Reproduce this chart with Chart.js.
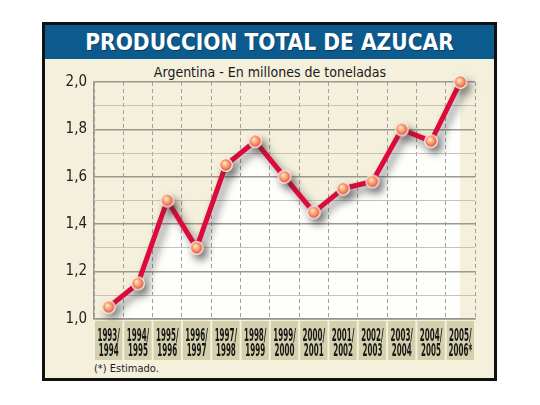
<!DOCTYPE html>
<html><head><meta charset="utf-8">
<script src="https://cdn.jsdelivr.net/npm/chart.js@4/dist/chart.umd.min.js"></script>
<style>
html,body{margin:0;padding:0;background:#fff;}
#wrap{position:relative;width:540px;height:405px;overflow:hidden;}
#frame{position:absolute;left:42px;top:22px;width:449px;height:353px;border:3px solid #111;background:#f4f0dc;}
#banner{position:absolute;left:0;top:0;width:449px;height:34px;background:#0c5b8f;color:#fff;font-family:"DejaVu Sans Condensed","DejaVu Sans",sans-serif;font-stretch:condensed;font-weight:bold;font-size:22.5px;text-align:center;line-height:35px;text-shadow:1px 1px 0 rgba(0,0,0,0.35);}
#sub{position:absolute;left:0;top:64px;width:540px;text-align:center;font-family:"DejaVu Sans Condensed","DejaVu Sans",sans-serif;font-stretch:condensed;font-size:14px;line-height:16px;color:#1a1a1a;}
#note{position:absolute;left:94px;top:362px;font-family:"Liberation Sans Narrow","DejaVu Sans Condensed",sans-serif;font-stretch:condensed;font-size:11px;line-height:14px;color:#222;}
canvas{position:absolute;left:0;top:0;}
</style>
</head><body>
<div id="wrap">
  <div id="frame"><div id="banner">PRODUCCION TOTAL DE AZUCAR</div></div>
  <div id="sub">Argentina - En millones de toneladas</div>
  <div id="note">(*) Estimado.</div>
  <canvas id="c" width="540" height="405"></canvas>
</div>
<script>
const categories = [
  ['1993/','1994'],['1994/','1995'],['1995/','1996'],['1996/','1997'],
  ['1997/','1998'],['1998/','1999'],['1999/','2000'],['2000/','2001'],
  ['2001/','2002'],['2002/','2003'],['2003/','2004'],['2004/','2005'],
  ['2005/','2006*']
];
const production = [1.05,1.15,1.50,1.30,1.65,1.75,1.60,1.45,1.55,1.58,1.80,1.75,2.00];
const yTickLabels = ['1,0','1,2','1,4','1,6','1,8','2,0'];
const yMin = 1.0, yMax = 2.0;

function isMajor(v){ return Math.abs(Math.round(v*10)) % 2 === 0; }

function makePoint(){
  const c = document.createElement('canvas'); c.width = 16; c.height = 16;
  const g = c.getContext('2d');
  const grd = g.createRadialGradient(6.5,6,0.5,8,8,7);
  grd.addColorStop(0,'#ffe6c4');
  grd.addColorStop(0.45,'#f8a070');
  grd.addColorStop(1,'#e03438');
  g.beginPath(); g.arc(8,8,6.3,0,Math.PI*2);
  g.fillStyle = grd; g.fill();
  g.lineWidth = 1.3; g.strokeStyle = '#fff0ea'; g.stroke();
  return c;
}

const shadowPlugin = {
  id:'shadow',
  beforeDatasetDraw(chart){
    const c = chart.ctx; c.save();
    c.shadowColor = 'rgba(50,50,50,0.6)'; c.shadowBlur = 8;
    c.shadowOffsetX = 4; c.shadowOffsetY = 5;
  },
  afterDatasetDraw(chart){ chart.ctx.restore(); }
};

const cellPlugin = {
  id:'xcells',
  afterDraw(chart){
    const s = chart.scales.x, c = chart.ctx, n = categories.length;
    const w = (s.right - s.left) / n;
    c.save();
    const font = 'bold 18px "Liberation Sans Narrow","DejaVu Sans Condensed",sans-serif';
    c.font = font;
    const sx = 22.5 / c.measureText('1993/').width;
    for (let i = 0; i < n; i++){
      const cx = s.getPixelForValue(i);
      c.fillStyle = '#d3d0ad';
      c.fillRect(cx - w/2 + 1, s.top + 2, w - 2, 39);
      c.fillStyle = '#161616';
      c.font = font; c.textAlign = 'center'; c.textBaseline = 'middle';
      categories[i].forEach((t, k) => {
        c.save(); c.translate(cx, s.top + 17 + k*15); c.scale(sx, 1);
        c.fillText(t, 0, 0); c.restore();
      });
    }
    c.restore();
  }
};

new Chart(document.getElementById('c'), {
  type:'line',
  data:{
    labels: categories.map(l => l.join('')),
    datasets:[{
      data: production,
      borderColor:'#de0a3c',
      borderWidth:5,
      backgroundColor:'#fefefd',
      fill:'origin',
      tension:0,
      pointStyle: makePoint(),
      pointRadius:7,
      clip:false
    }]
  },
  options:{
    responsive:false, animation:false, devicePixelRatio:1,
    layout:{padding:{top:82,right:65,bottom:45,left:0}},
    plugins:{legend:{display:false}, tooltip:{enabled:false}, filler:{drawTime:'beforeDraw'}},
    scales:{
      x:{
        type:'category', offset:true,
        grid:{color:'#a09f98', lineWidth:1, drawTicks:false, offset:true},
        border:{display:true, color:'#96948c', width:1.5, dash:[4,3]},
        ticks:{display:false},
        afterFit(s){ s.height = 41; }
      },
      y:{
        min:yMin, max:yMax,
        grid:{
          color:(ctx)=> isMajor(ctx.tick.value) ? '#9a988f' : '#c6c4b8',
          lineWidth:(ctx)=> isMajor(ctx.tick.value) ? 1.6 : 1,
          drawTicks:false
        },
        border:{display:true, color:'#9a988f', width:1.5},
        ticks:{
          stepSize:0.1, autoSkip:false, padding:7, color:'#1e1e1e',
          font:{family:'"DejaVu Sans Condensed","DejaVu Sans",sans-serif', size:15},
          callback:(v)=>{ const k = Math.round((v - yMin)*10); return k % 2 === 0 ? yTickLabels[k/2] : ''; }
        },
        afterFit(s){ s.width = 94; }
      }
    }
  },
  plugins:[shadowPlugin, cellPlugin]
});
</script>
</body></html>
